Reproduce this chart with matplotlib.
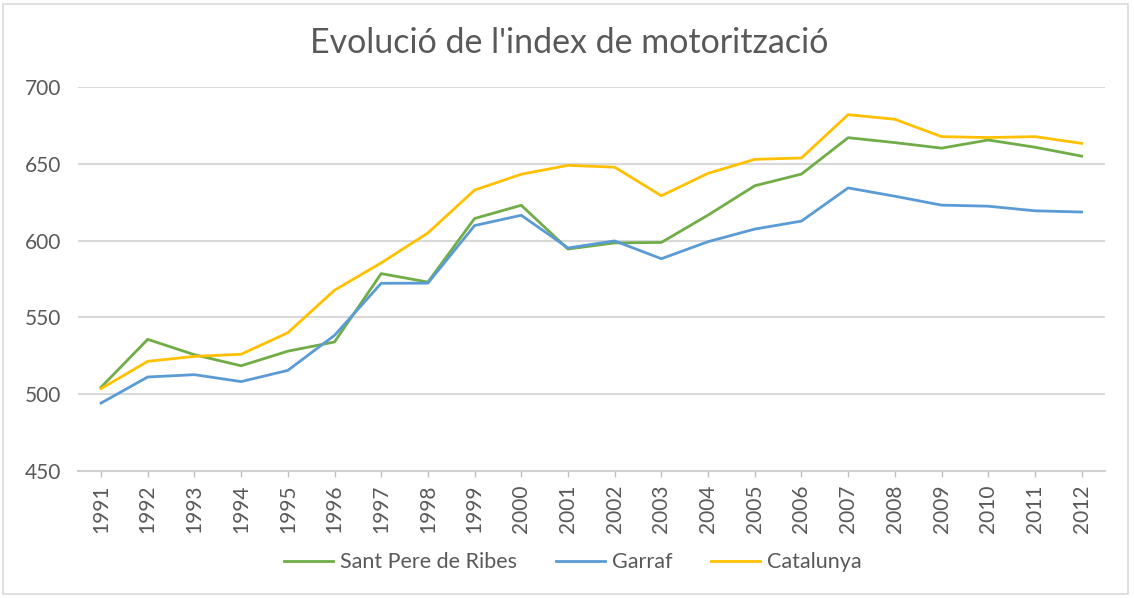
import matplotlib
matplotlib.use("Agg")
import matplotlib.pyplot as plt
from matplotlib.patches import Rectangle

years = ["1991", "1992", "1993", "1994", "1995", "1996", "1997", "1998", "1999", "2000",
         "2001", "2002", "2003", "2004", "2005", "2006", "2007", "2008", "2009", "2010",
         "2011", "2012"]
sant_pere = [504.5, 535.7, 525.7, 518.5, 528.0, 534.0, 578.5, 573.0, 614.4, 623.0,
             594.5, 598.5, 598.8, 616.6, 635.7, 643.3, 667.0, 663.8, 660.2, 665.5,
             660.8, 655.0]
garraf = [494.2, 511.2, 512.7, 508.2, 515.5, 538.3, 572.2, 572.3, 609.8, 616.5,
          595.2, 599.8, 588.2, 599.3, 607.5, 612.7, 634.3, 628.9, 623.1, 622.4,
          619.4, 618.6]
catalunya = [503.6, 521.4, 524.6, 526.0, 540.0, 567.7, 585.5, 605.0, 632.9, 643.2,
             649.0, 647.8, 629.2, 643.8, 652.9, 653.8, 682.0, 679.0, 667.7, 667.1,
             667.7, 663.3]
series_names = ["Sant Pere de Ribes", "Garraf", "Catalunya"]
colors = ["#70ad47", "#5b9bd5", "#ffc000"]
yticks = [450, 500, 550, 600, 650, 700]
title = "Evolució de l'index de motorització"

plt.rcParams['font.family'] = ['Lato', 'DejaVu Sans']
txt = "#595959"
grid = "#d9d9d9"

fig = plt.figure(figsize=(11.34, 5.98), dpi=100)
ax = fig.add_axes([0.0685, 0.2124, 0.9059, 0.6421])

x = list(range(len(years)))
for vals, name, c in zip([sant_pere, garraf, catalunya], series_names, colors):
    ax.plot(x, vals, color=c, lw=2.0, label=name, solid_joinstyle='round')

ax.set_xlim(-0.5, len(years) - 0.5)
ax.set_ylim(450, 700)
ax.set_yticks(yticks)
ax.set_yticklabels([str(v) for v in yticks], fontsize=15, color=txt)
ax.set_xticks(x)
ax.set_xticklabels(years, rotation=90, fontsize=15, color=txt)
ax.tick_params(axis='y', length=0, pad=12)
ax.tick_params(axis='x', length=4, color="#bfbfbf", width=1, pad=6)

for v in yticks[1:]:
    ax.axhline(v, color=grid, lw=1.5, zorder=0)
for s in ["top", "right", "left"]:
    ax.spines[s].set_visible(False)
ax.spines["bottom"].set_color("#d0d0d0")
ax.spines["bottom"].set_linewidth(1.5)

fig.text(0.502, 0.928, title, ha='center', va='center', fontsize=24.5, color=txt)

leg = fig.legend(loc='center', bbox_to_anchor=(0.505, 0.06), ncol=3, frameon=False,
                 fontsize=15.5, handlelength=2.3, columnspacing=1.8, handletextpad=0.3)
for t in leg.get_texts():
    t.set_color(txt)

fig.patches.append(Rectangle((0.003, 0.006), 0.992, 0.988, transform=fig.transFigure,
                             fill=False, edgecolor="#d9d9d9", lw=1.2))

fig.savefig("out.png", dpi=100, facecolor="white")
